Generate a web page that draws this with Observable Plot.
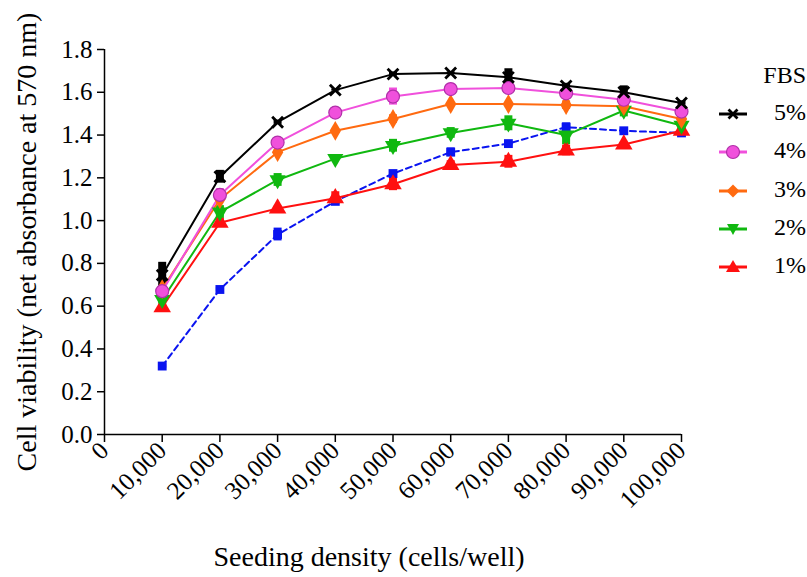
<!DOCTYPE html>
<html>
<head>
<meta charset="utf-8">
<script src="https://cdn.jsdelivr.net/npm/d3@7"></script>
<script src="https://cdn.jsdelivr.net/npm/@observablehq/plot@0.6"></script>
<style>
  body { margin: 0; background: #fff; }
  #wrap { position: relative; width: 807px; height: 577px; font-family: "Liberation Serif", serif; }
  #legend { position: absolute; left: 719px; top: 62px; width: 88px; font-family: "Liberation Serif", serif; font-size: 24px; color: #000; }
  #legend .title { text-align: right; padding-right: 1px; height: 37px; }
  #legend .row { position: relative; height: 38.3px; }
  #legend .row svg { position: absolute; left: 0; top: 1px; }
  #legend .row span { position: absolute; right: 1px; top: 0px; }
</style>
</head>
<body>
<div id="wrap"><div id="chart"></div><div id="legend"></div></div>
<script>
// Seeding density (cells/well)
const densities = [10000, 20000, 30000, 40000, 50000, 60000, 70000, 80000, 90000, 100000];
const xTicks = [0, 10000, 20000, 30000, 40000, 50000, 60000, 70000, 80000, 90000, 100000];
const yTicks = [0, 0.2, 0.4, 0.6, 0.8, 1.0, 1.2, 1.4, 1.6, 1.8];

// Net absorbance at 570 nm (mean) and error (half-bar)
const fbs5 = [0.745, 1.205, 1.46, 1.61, 1.685, 1.69, 1.67, 1.63, 1.60, 1.55];
const err5 = [0.06, 0.03, 0.01, 0.005, 0.01, 0.005, 0.04, 0.012, 0.03, 0.01];
const fbs4 = [0.67, 1.12, 1.365, 1.505, 1.58, 1.615, 1.62, 1.595, 1.565, 1.51];
const err4 = [0.02, 0.03, 0.015, 0.01, 0.04, 0.025, 0.01, 0.01, 0.035, 0.03];
const fbs3 = [0.68, 1.10, 1.32, 1.42, 1.475, 1.545, 1.545, 1.54, 1.535, 1.475];
const err3 = [0.01, 0.01, 0.01, 0.01, 0.02, 0.005, 0.005, 0.02, 0.01, 0.02];
const fbs2 = [0.63, 1.04, 1.19, 1.29, 1.35, 1.41, 1.455, 1.40, 1.515, 1.445];
const err2 = [0.02, 0.03, 0.03, 0.005, 0.03, 0.025, 0.035, 0.045, 0.03, 0.02];
const fbs1 = [0.595, 0.99, 1.057, 1.105, 1.17, 1.26, 1.275, 1.328, 1.356, 1.42];
const err1 = [0.015, 0.02, 0.01, 0.03, 0.03, 0.02, 0.03, 0.025, 0.01, 0.01];
const ctrl = [0.32, 0.678, 0.935, 1.09, 1.22, 1.32, 1.36, 1.437, 1.42, 1.41];
const errC = [0.01, 0.01, 0.03, 0.01, 0.015, 0.02, 0.01, 0.02, 0.01, 0.015];

const seriesNames = ["Control", "1%", "2%", "3%", "4%", "5%"];
const seriesValues = [ctrl, fbs1, fbs2, fbs3, fbs4, fbs5];
const seriesErrors = [errC, err1, err2, err3, err4, err5];
const colors = {"Control": "#0a14f0", "1%": "#ff1010", "2%": "#10b810", "3%": "#ff6a10", "4%": "#f050dc", "5%": "#000000"};
const legendOrder = ["5%", "4%", "3%", "2%", "1%"];

const rows = [];
seriesNames.forEach((s, i) => densities.forEach((d, j) =>
  rows.push({series: s, x: d, y: seriesValues[i][j], lo: seriesValues[i][j] - seriesErrors[i][j], hi: seriesValues[i][j] + seriesErrors[i][j]})));
const of = s => rows.filter(r => r.series === s);

const marks = [];
for (const s of seriesNames) {
  marks.push(Plot.ruleX(of(s), {x: "x", y1: "lo", y2: "hi", stroke: colors[s], strokeWidth: 8}));
}
for (const s of seriesNames) {
  marks.push(Plot.line(of(s), {x: "x", y: "y", stroke: colors[s], strokeWidth: 2,
    strokeDasharray: s === "Control" ? "6,4" : null}));
}
marks.push(Plot.dot(of("Control"), {x: "x", y: "y", symbol: "square", r: 5, fill: colors["Control"]}));
marks.push(Plot.dot(of("1%"), {x: "x", y: "y", symbol: "triangle", r: 6.5, fill: colors["1%"]}));
marks.push(Plot.dot(of("2%"), {x: "x", y: "y", symbol: "triangle", r: 6, rotate: 180, fill: colors["2%"]}));
marks.push(Plot.dot(of("3%"), {x: "x", y: "y", symbol: "diamond", r: 6, fill: colors["3%"]}));
marks.push(Plot.dot(of("4%"), {x: "x", y: "y", symbol: "circle", r: 6.5, fill: colors["4%"], stroke: "#b030a8", strokeWidth: 1.2}));
marks.push(Plot.dot(of("5%"), {x: "x", y: "y", symbol: "times", r: 5, stroke: colors["5%"], strokeWidth: 2.8}));

const chart = Plot.plot({
  width: 807, height: 577,
  marginLeft: 104, marginRight: 126, marginTop: 49, marginBottom: 143,
  style: {fontFamily: "Liberation Serif, serif", fontSize: "24px", color: "#000", background: "#fff"},
  x: {domain: [0, 100000]},
  y: {domain: [0, 1.8]},
  marks: [
    Plot.axisY({ticks: yTicks, tickSize: 7, tickPadding: 5, tickFormat: d => d.toFixed(1), label: null, strokeWidth: 1.5, fontSize: 25}),
    Plot.axisX({ticks: xTicks, tickSize: 8, tickPadding: 4, tickRotate: -45, tickFormat: d => d === 0 ? "0" : d3.format(",")(d), label: null, strokeWidth: 1.5, fontSize: 25}),
    Plot.ruleX([0], {y1: 0, y2: 1.8, strokeWidth: 1.5}),
    Plot.ruleY([0], {x1: 0, x2: 100000, strokeWidth: 1.5}),
    ...marks,
    Plot.text(["Cell viability (net absorbance at 570 nm)"], {frameAnchor: "left", textAnchor: "middle", lineAnchor: "middle", dx: -77, rotate: -90, fontSize: 28}),
    Plot.text(["Seeding density (cells/well)"], {frameAnchor: "bottom", textAnchor: "middle", lineAnchor: "middle", dx: -24, dy: 123, fontSize: 28})
  ]
});
document.getElementById("chart").appendChild(chart);

// legend
const sym = {
  "5%": '<path d="M9.5,9.5 L18.5,18.5 M18.5,9.5 L9.5,18.5" stroke="#000" stroke-width="2.8"/>',
  "4%": '<circle cx="14" cy="14" r="6.5" fill="#f050dc" stroke="#b030a8" stroke-width="1.2"/>',
  "3%": '<path d="M14,7.5 L20.5,14 L14,20.5 L7.5,14Z" fill="#ff6a10"/>',
  "2%": '<path d="M8,9 L20,9 L14,20Z" fill="#10b810"/>',
  "1%": '<path d="M14,7 L21,19 L7,19Z" fill="#ff1010"/>'
};
const lg = document.getElementById("legend");
lg.innerHTML = '<div class="title">FBS</div>' + legendOrder.map(s =>
  `<div class="row"><svg width="30" height="28"><line x1="0" x2="28" y1="14" y2="14" stroke="${colors[s]}" stroke-width="3"/>${sym[s]}</svg><span>${s}</span></div>`).join("");
</script>
</body>
</html>
